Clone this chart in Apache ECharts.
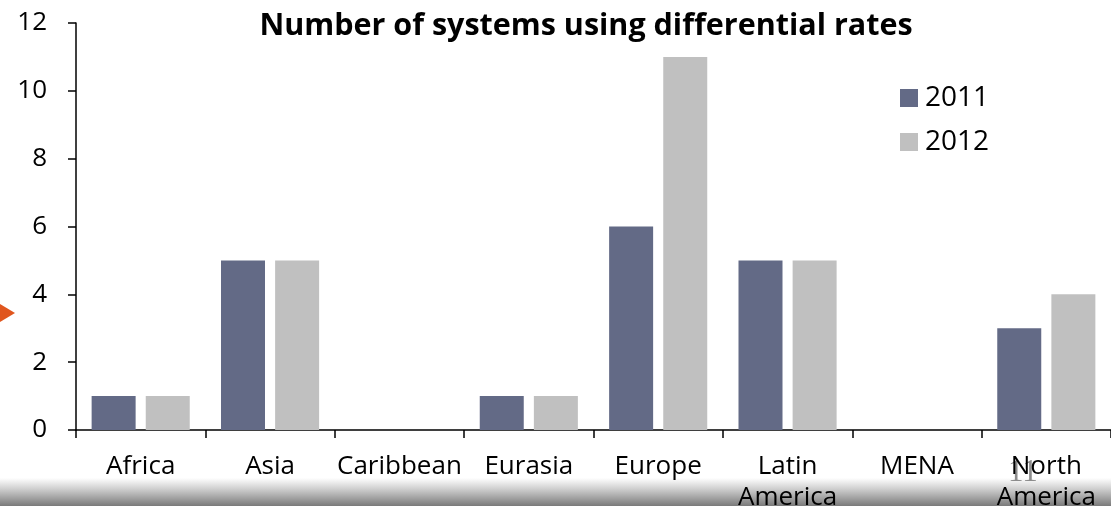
<!DOCTYPE html>
<html>
<head>
<meta charset="utf-8">
<script src="https://cdn.jsdelivr.net/npm/echarts@6/dist/echarts.min.js"></script>
<style>
  html, body { margin: 0; padding: 0; background: #ffffff; }
  #chart { width: 1111px; height: 506px; }
</style>
</head>
<body>
<div id="chart"></div>
<script>
// Regions and the count of systems using differential rates per year
const regions = ['Africa', 'Asia', 'Caribbean', 'Eurasia', 'Europe', 'Latin\nAmerica', 'MENA', 'North\nAmerica'];
const systems2011 = [1, 5, 0, 1, 6, 5, 0, 3];
const systems2012 = [1, 5, 0, 1, 11, 5, 0, 4];
const yTicks = [0, 2, 4, 6, 8, 10, 12];

const FONT = '"Open Sans", "DejaVu Sans", sans-serif';

const chart = echarts.init(document.getElementById('chart'), null, { renderer: 'canvas' });

chart.setOption({
  animation: false,
  backgroundColor: '#ffffff',
  title: {
    text: 'Number of systems using differential rates',
    left: 581,
    textAlign: 'center',
    top: 6,
    textStyle: { fontFamily: FONT, fontSize: 30.5, fontWeight: 'bold', color: '#000000' }
  },
  legend: {
    data: ['2011', '2012'],
    orient: 'vertical',
    left: 895,
    top: 79,
    itemWidth: 18,
    itemHeight: 18,
    itemGap: 16,
    icon: 'rect',
    textStyle: { fontFamily: FONT, fontSize: 28, color: '#000000', padding: [0, 0, 0, 2] }
  },
  grid: { left: 76, right: 0, top: 23, bottom: 76, containLabel: false, outerBoundsMode: 'none' },
  xAxis: {
    type: 'category',
    data: regions,
    axisLine: { lineStyle: { color: '#000000', width: 1.5 } },
    axisTick: { show: true, length: 8, alignWithLabel: false, lineStyle: { color: '#000000', width: 1.5 } },
    axisLabel: { fontFamily: FONT, fontSize: 26, color: '#000000', margin: 21, lineHeight: 31, interval: 0 }
  },
  yAxis: {
    type: 'value',
    min: yTicks[0],
    max: yTicks[yTicks.length - 1],
    interval: 2,
    splitLine: { show: false },
    axisLine: { show: true, lineStyle: { color: '#000000', width: 1.5 } },
    axisTick: { show: true, length: 8, lineStyle: { color: '#000000', width: 1.5 } },
    axisLabel: { fontFamily: FONT, fontSize: 26, color: '#000000', margin: 29 }
  },
  series: [
    {
      name: '2011',
      type: 'bar',
      data: systems2011,
      barWidth: 44,
      barGap: '23%',
      itemStyle: { color: '#636a86' }
    },
    {
      name: '2012',
      type: 'bar',
      data: systems2012,
      barWidth: 44,
      itemStyle: { color: '#c0c0c0' }
    }
  ],
  graphic: [
    {
      type: 'rect',
      z: -10,
      shape: { x: 0, y: 478, width: 1111, height: 28 },
      style: {
        fill: new echarts.graphic.LinearGradient(0, 0, 0, 1, [
          { offset: 0, color: 'rgba(255,255,255,1)' },
          { offset: 0.35, color: '#d4d4d4' },
          { offset: 1, color: '#7a7a7a' }
        ])
      }
    },
    {
      type: 'polygon',
      shape: { points: [[0, 304], [15, 313], [0, 322]] },
      style: { fill: '#e0561e' }
    },
    {
      type: 'text',
      left: 1008,
      top: 457,
      style: { text: '11', fontFamily: '"Liberation Serif", serif', fontSize: 31, fill: '#8c8c8c' }
    }
  ]
});
</script>
</body>
</html>
